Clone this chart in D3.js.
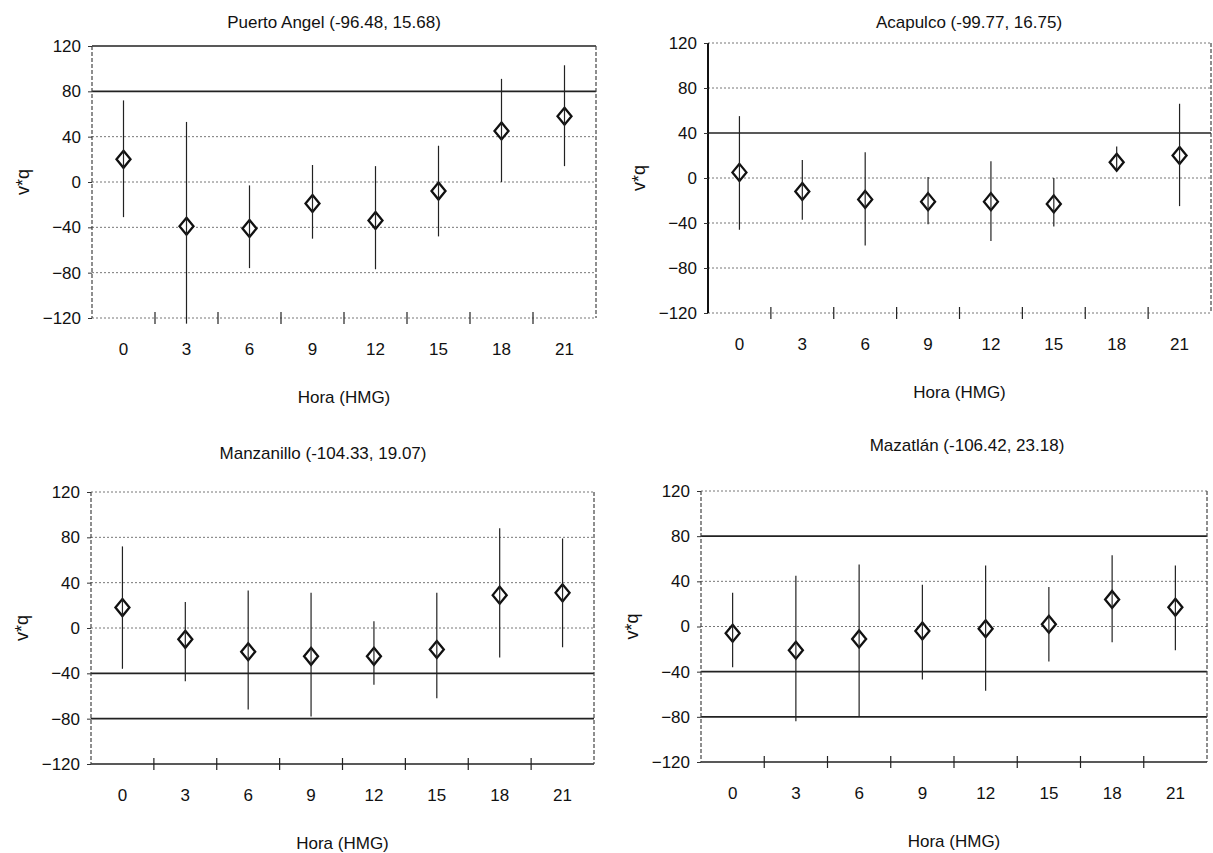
<!DOCTYPE html>
<html>
<head>
<meta charset="utf-8">
<script src="https://cdn.jsdelivr.net/npm/d3@7"></script>
<style>
  body { margin: 0; background: #fff; }
  text { font-family: "Liberation Sans", Arial, sans-serif; fill: #111; }
</style>
</head>
<body>
<div id="chart"></div>
<script>
// categories and ticks
const hours = ["0", "3", "6", "9", "12", "15", "18", "21"];
const yTicks = [-120, -80, -40, 0, 40, 80, 120];
const titles = ["Puerto Angel (-96.48, 15.68)", "Acapulco (-99.77, 16.75)",
                "Manzanillo (-104.33, 19.07)", "Mazatlán (-106.42, 23.18)"];

// v*q mean (diamonds) and bar ends
const meanPA = [20, -39, -41, -19, -34, -8, 45, 58];
const lowPA  = [-31, -125, -76, -50, -77, -48, 0, 14];
const highPA = [72, 53, -3, 15, 14, 32, 91, 103];

const meanAC = [5, -12, -19, -21, -21, -23, 14, 20];
const lowAC  = [-46, -37, -60, -41, -56, -43, 8, -25];
const highAC = [55, 16, 23, 1, 15, 0, 28, 66];

const meanMZ = [18, -10, -21, -25, -25, -19, 29, 31];
const lowMZ  = [-36, -47, -72, -78, -50, -62, -26, -17];
const highMZ = [72, 23, 33, 31, 6, 31, 88, 79];

const meanMT = [-6, -21, -11, -4, -2, 2, 24, 17];
const lowMT  = [-36, -84, -80, -47, -57, -31, -14, -21];
const highMT = [30, 45, 55, 37, 54, 35, 63, 54];

const series = [[meanPA, lowPA, highPA], [meanAC, lowAC, highAC],
                [meanMZ, lowMZ, highMZ], [meanMT, lowMT, highMT]];

// where each little chart sits on the page (scanned gridlines that came out solid)
const layout = [
    {left: 92,  right: 596,  top: 46,  bottom: 318, titleX: 334, titleY: 22,  solid: [120, 80]},
    {left: 708, right: 1211, top: 43,  bottom: 313, titleX: 969, titleY: 22,  solid: [40], solidAxis: true},
    {left: 91,  right: 594,  top: 492, bottom: 764, titleX: 323, titleY: 453, solid: [-40, -80, -120]},
    {left: 701, right: 1207, top: 491, bottom: 762, titleX: 967, titleY: 445, solid: [80, -40, -80, -120]}
];

const svg = d3.select("#chart").append("svg")
    .attr("width", 1213)
    .attr("height", 853);

layout.forEach((p, k) => {
    let g = svg.append("g");
    let x = d3.scaleBand().domain(hours).range([p.left, p.right]).padding(0);
    let y = d3.scaleLinear().domain([-120, 120]).range([p.bottom, p.top]);
    let [mean, low, high] = series[k];

    // horizontal gridlines
    g.selectAll(".grid").data(yTicks).enter().append("line")
        .attr("x1", p.left).attr("x2", p.right)
        .attr("y1", d => y(d)).attr("y2", d => y(d))
        .style("stroke", d => p.solid.includes(d) ? "#222" : "#777")
        .style("stroke-width", d => p.solid.includes(d) ? 1.6 : 1)
        .style("stroke-dasharray", d => p.solid.includes(d) ? null : "2,2");

    // plot frame sides
    g.append("line")
        .attr("x1", p.left).attr("x2", p.left).attr("y1", p.top).attr("y2", p.bottom)
        .style("stroke", p.solidAxis ? "#111" : "#444")
        .style("stroke-width", p.solidAxis ? 2 : 1.2)
        .style("stroke-dasharray", p.solidAxis ? null : "4,2");
    g.append("line")
        .attr("x1", p.right).attr("x2", p.right).attr("y1", p.top).attr("y2", p.bottom)
        .style("stroke", "#444")
        .style("stroke-width", 1.2)
        .style("stroke-dasharray", "4,2");

    // category boundary ticks crossing the bottom axis
    g.selectAll(".xtick").data(hours.slice(1)).enter().append("line")
        .attr("x1", d => x(d)).attr("x2", d => x(d))
        .attr("y1", p.bottom - 6).attr("y2", p.bottom + 6)
        .style("stroke", "#222").style("stroke-width", 1.2);

    // y axis labels
    let yAxis = g.append("g")
        .attr("transform", `translate(${p.left},0)`)
        .call(d3.axisLeft(y).tickValues(yTicks).tickSize(4).tickPadding(7));
    yAxis.select(".domain").remove();
    yAxis.selectAll(".tick line").style("stroke", "#333");
    yAxis.selectAll("text").style("font-size", "17px").style("fill", "#111");

    // x axis labels
    let xAxis = g.append("g")
        .attr("transform", `translate(0,${p.bottom})`)
        .call(d3.axisBottom(x).tickSize(0).tickPadding(25));
    xAxis.select(".domain").remove();
    xAxis.selectAll("text").style("font-size", "17px").style("fill", "#111");

    // diamonds
    let pts = hours.map((h, i) => ({h: h, m: mean[i], lo: low[i], hi: high[i]}));
    g.selectAll(".mark").data(pts).enter().append("path")
        .attr("d", "M0,-8.5L7,0L0,8.5L-7,0Z")
        .attr("transform", d => `translate(${x(d.h) + x.bandwidth() / 2},${y(d.m)})`)
        .style("fill", "#fff")
        .style("stroke", "#111")
        .style("stroke-width", 2.3);

    // error bars on top
    g.selectAll(".bar").data(pts).enter().append("line")
        .attr("x1", d => x(d.h) + x.bandwidth() / 2)
        .attr("x2", d => x(d.h) + x.bandwidth() / 2)
        .attr("y1", d => y(d.lo)).attr("y2", d => y(d.hi))
        .style("stroke", "#222")
        .style("stroke-width", 1.2);

    // titles
    g.append("text")
        .attr("x", p.titleX).attr("y", p.titleY)
        .attr("dy", "0.35em")
        .attr("text-anchor", "middle")
        .style("font-size", "17px")
        .text(titles[k]);

    g.append("text")
        .attr("x", (p.left + p.right) / 2).attr("y", p.bottom + 79)
        .attr("dy", "0.35em")
        .attr("text-anchor", "middle")
        .style("font-size", "17px")
        .text("Hora (HMG)");

    g.append("text")
        .attr("transform", `translate(${p.left - 69},${(p.top + p.bottom) / 2}) rotate(-90)`)
        .attr("dy", "0.35em")
        .attr("text-anchor", "middle")
        .style("font-size", "18px")
        .text("v*q");
});
</script>
</body>
</html>
